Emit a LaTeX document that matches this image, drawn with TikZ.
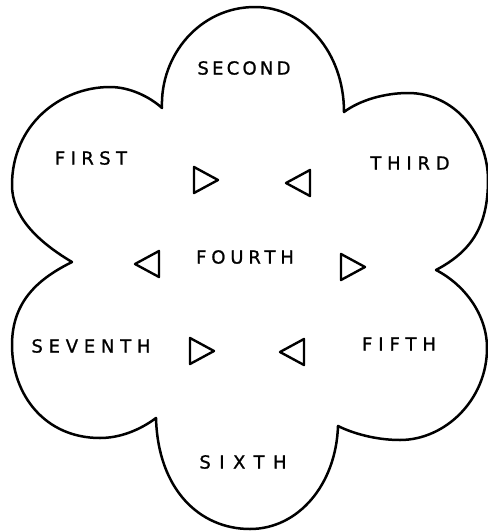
\documentclass[tikz,border=0pt]{standalone}
\usepackage{fontspec}
\setmainfont{DejaVu Sans}[FakeBold=1]

\begin{document}
\begin{tikzpicture}[x=1pt,y=-1pt,
  outline/.style={line width=2.5pt,line join=round,line cap=round},
  marker/.style={line width=2.4pt,line join=round},
  lobe/.style={font=\fontsize{18}{18}\selectfont\addfontfeature{LetterSpace=#1},inner sep=0pt},
  lobe/.default=18]
  \useasboundingbox (0,0) rectangle (488,531);
  % petals: top, upper right, lower right, bottom, lower left, upper left
  \draw[outline] (162,108) .. controls (160,55) and (200,7) .. (255,7)
    .. controls (304,7) and (344,52) .. (344,112)
    .. controls (360,100) and (385,93) .. (408,93)
    .. controls (455,93) and (488,135) .. (488,180)
    .. controls (488,228) and (470,252) .. (436,270)
    .. controls (465,285) and (487,315) .. (487,348)
    .. controls (487,400) and (445,440) .. (400,440)
    .. controls (375,440) and (352,433) .. (338,426)
    .. controls (336,485) and (298,529) .. (250,529)
    .. controls (200,529) and (158,490) .. (156,418)
    .. controls (140,430) and (120,438) .. (100,438)
    .. controls (45,438) and (12,395) .. (12,345)
    .. controls (12,300) and (40,278) .. (72,262)
    .. controls (35,240) and (12,215) .. (12,185)
    .. controls (12,125) and (60,87) .. (110,87)
    .. controls (130,87) and (150,97) .. cycle;
  \node[lobe] (second)  at (244,68)  {SECOND};
  \node[lobe=30] (first)   at (91,158)  {FIRST};
  \node[lobe=32] (third)   at (410,163) {THIRD};
  \node[lobe=27] (fourth)  at (245,257) {FOURTH};
  \node[lobe=33] (fifth)   at (399,344) {FIFTH};
  \node[lobe=47] (sixth)   at (243,462) {SIXTH};
  \node[lobe=32] (seventh) at (91,346)  {SEVENTH};
  % small triangles, base x / middle y / side
  \foreach \x/\y/\s in {194/180/1,310/183/-1,159/264/-1,341/267/1,190/351/1,304/352/-1} {
    \draw[marker] (\x,\y-13) -- (\x+24*\s,\y) -- (\x,\y+13) -- cycle;
  }
\end{tikzpicture}
\end{document}
